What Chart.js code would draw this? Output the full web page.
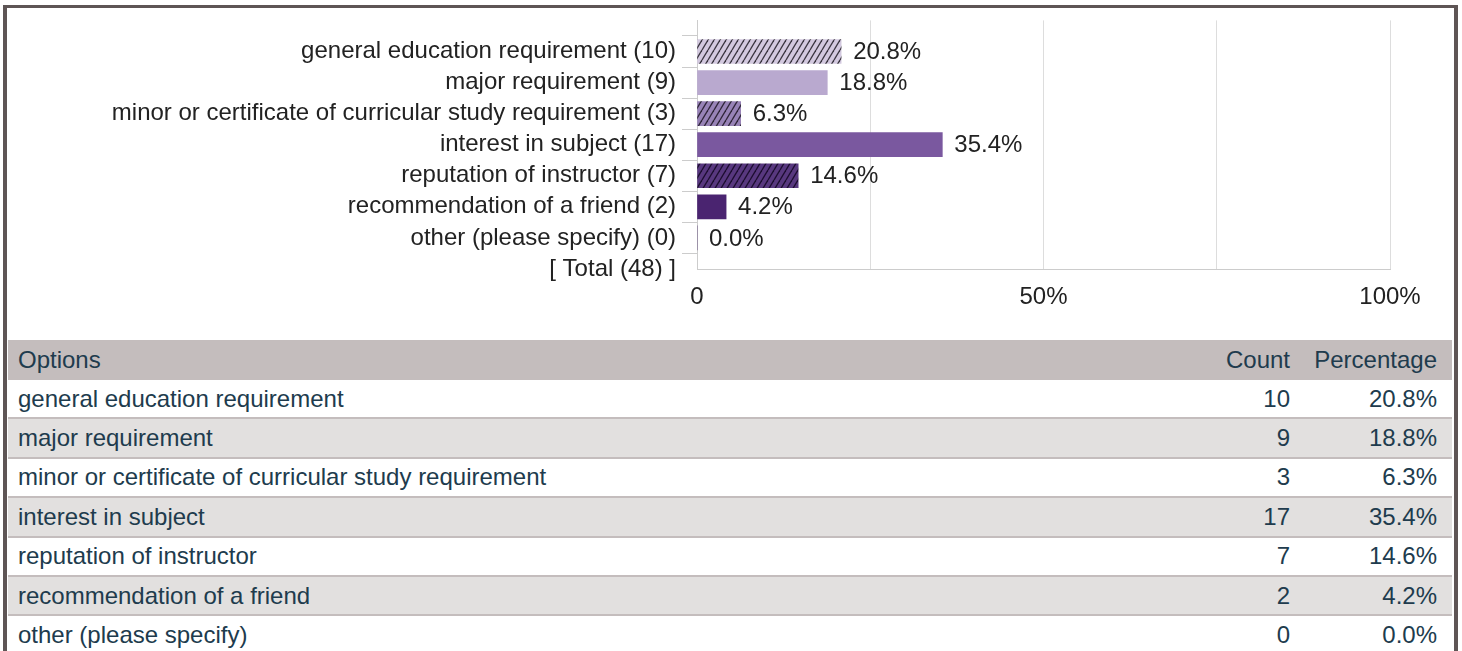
<!DOCTYPE html>
<html>
<head>
<meta charset="utf-8">
<script src="https://cdn.jsdelivr.net/npm/chart.js@4"></script>
<style>
  html, body { margin: 0; padding: 0; background: #ffffff; width: 1462px; height: 651px; overflow: hidden; }
  body { position: relative; font-family: 'Liberation Sans', Arial, sans-serif; }
  #frame { position: absolute; left: 3px; top: 5px; width: 1447px; height: 700px;
           border-left: 4px solid #5e5555; border-top: 3px solid #5e5555; border-right: 4px solid #5e5555; }
  #chartWrap { position: absolute; left: 0; top: 0; width: 1462px; height: 335px; }
  table { position: absolute; left: 8px; top: 340px; width: 1444px; border-collapse: collapse; table-layout: fixed;
          font-size: 24px; color: #203b4d; }
  th { background: #c4bdbd; font-weight: normal; height: 40px; padding: 0; }
  td { height: 37.4px; padding: 0; border-bottom: 2px solid #c4bdbd; }
  tbody tr:nth-child(even) td { background: #e2e0df; }
  .c1 { text-align: left; padding-left: 10px; }
  .c2 { text-align: right; padding-right: 15px; }
  .c3 { text-align: right; padding-right: 15px; }
</style>
</head>
<body>
<div id="chartWrap"><canvas id="c" width="1462" height="335"></canvas></div>
<table id="tbl">
  <colgroup><col style="width:1197px"><col style="width:100px"><col style="width:147px"></colgroup>
  <thead><tr><th class="c1" id="h1"></th><th class="c2" id="h2"></th><th class="c3" id="h3"></th></tr></thead>
  <tbody id="tb"></tbody>
</table>
<div id="frame"></div>
<script>
// ---- data ----
const categories = [
  'general education requirement',
  'major requirement',
  'minor or certificate of curricular study requirement',
  'interest in subject',
  'reputation of instructor',
  'recommendation of a friend',
  'other (please specify)'
];
const counts = [10, 9, 3, 17, 7, 2, 0];
const percents = [20.8, 18.8, 6.3, 35.4, 14.6, 4.2, 0.0];
const total = 48;
const xTickValues = [0, 50, 100];
const xTickLabels = ['0', '50%', '100%'];
const tableHeaders = ['Options', 'Count', 'Percentage'];

// ---- styles ----
const barBase = ['#d3c9df', '#b9a9cf', '#9883b7', '#7a589f', '#58387f', '#4a2470', '#3c1d60'];
const barHatch = [true, false, true, false, true, false, false];
const hatchLine = ['#3a3540', null, '#2e2438', null, '#1c0d30', null, null];

function makePattern(bg, line) {
  const w = 6, h = 10;
  const t = document.createElement('canvas');
  t.width = w; t.height = h;
  const g = t.getContext('2d');
  g.fillStyle = bg; g.fillRect(0, 0, w, h);
  g.strokeStyle = line; g.lineWidth = 1.3;
  for (let k = -1; k <= 1; k++) {
    g.beginPath(); g.moveTo(k * w, h); g.lineTo(k * w + w, 0); g.stroke();
  }
  return document.getElementById('c').getContext('2d').createPattern(t, 'repeat');
}
const fills = barBase.map((b, i) => barHatch[i] ? makePattern(b, hatchLine[i]) : b);

// ---- table ----
document.getElementById('h1').textContent = tableHeaders[0];
document.getElementById('h2').textContent = tableHeaders[1];
document.getElementById('h3').textContent = tableHeaders[2];
const tb = document.getElementById('tb');
categories.forEach((c, i) => {
  const tr = document.createElement('tr');
  tr.innerHTML = '<td class="c1"></td><td class="c2"></td><td class="c3"></td>';
  tr.children[0].textContent = c;
  tr.children[1].textContent = counts[i];
  tr.children[2].textContent = percents[i].toFixed(1) + '%';
  tb.appendChild(tr);
});

// ---- chart ----
const yLabels = [''].concat(categories.map((c, i) => c + ' (' + counts[i] + ')'), ['[ Total (' + total + ') ]']);
const barData = [null].concat(percents, [null]);
const barColors = ['rgba(0,0,0,0)'].concat(fills, ['rgba(0,0,0,0)']);

Chart.defaults.font.family = "'Liberation Sans', Arial, sans-serif";
Chart.defaults.font.size = 24;
Chart.defaults.color = '#222222';

const valueLabels = {
  id: 'valueLabels',
  afterDatasetsDraw(chart) {
    const ctx = chart.ctx;
    const meta = chart.getDatasetMeta(0);
    ctx.save();
    ctx.font = "24px 'Liberation Sans', Arial, sans-serif";
    ctx.fillStyle = '#222222';
    ctx.textAlign = 'left';
    ctx.textBaseline = 'middle';
    meta.data.forEach((bar, i) => {
      const v = barData[i];
      if (v === null || v === undefined) return;
      ctx.fillText(v.toFixed(1) + '%', bar.x + 12, bar.y + 1);
    });
    ctx.restore();
  }
};

new Chart(document.getElementById('c'), {
  type: 'bar',
  data: {
    labels: yLabels,
    datasets: [{
      data: barData,
      backgroundColor: barColors,
      borderWidth: 0,
      barThickness: 24
    }]
  },
  options: {
    indexAxis: 'y',
    responsive: false,
    animation: false,
    devicePixelRatio: 1,
    layout: { padding: { top: 18, right: 72, left: 0, bottom: 0 } },
    plugins: { legend: { display: false }, tooltip: { enabled: false } },
    scales: {
      x: {
        type: 'linear',
        min: 0, max: 100,
        afterBuildTicks(scale) { scale.ticks = [0, 25, 50, 75, 100].map(v => ({ value: v })); },
        ticks: {
          padding: 14,
          maxRotation: 0,
          autoSkip: false,
          callback(v) { const k = xTickValues.indexOf(v); return k >= 0 ? xTickLabels[k] : ''; }
        },
        grid: { color: '#dddddd', drawTicks: false, lineWidth: 1 },
        border: { display: true, color: '#cccccc' },
        afterFit(scale) { scale.height = 335 - 269; }
      },
      y: {
        type: 'category',
        offset: false,
        ticks: { autoSkip: false, padding: 6 },
        grid: {
          drawOnChartArea: false,
          drawTicks: true,
          tickLength: 15,
          color: (ctx) => ctx.index === 0 ? 'rgba(0,0,0,0)' : '#cccccc',
          tickColor: (ctx) => ctx.index === 0 ? 'rgba(0,0,0,0)' : '#cccccc'
        },
        border: { display: true, color: '#cccccc' },
        afterFit(scale) { scale.width = 697; }
      }
    }
  },
  plugins: [valueLabels]
});
</script>
</body>
</html>
